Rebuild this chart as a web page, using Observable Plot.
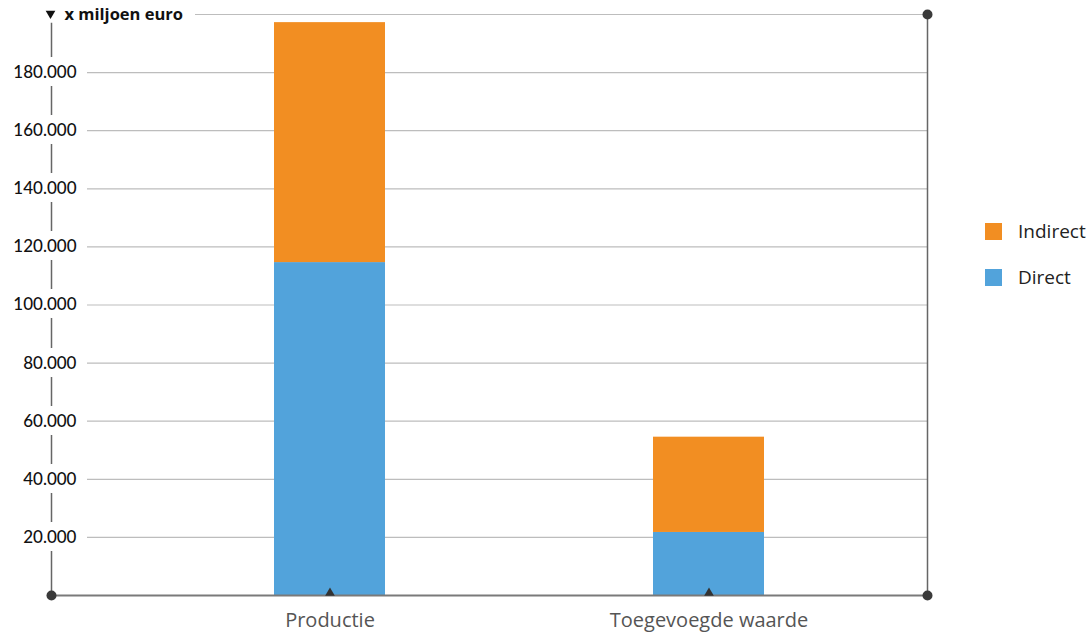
<!DOCTYPE html>
<html>
<head>
<meta charset="utf-8">
<script src="https://cdn.jsdelivr.net/npm/d3@7"></script>
<script src="https://cdn.jsdelivr.net/npm/@observablehq/plot@0.6"></script>
<style>
  body { margin: 0; background: #fff; }
  #wrap { position: relative; width: 1088px; height: 633px; font-family: "Open Sans", Lato, sans-serif; }
  #legend { position: absolute; left: 985px; top: 222px; }
  .item { display: flex; align-items: center; height: 18px; margin-bottom: 28px; font-size: 19px; color: #222; }
  .sw { width: 17px; height: 17px; margin-right: 16px; }
</style>
</head>
<body>
<div id="wrap"></div>
<script>
const categories = ["Productie", "Toegevoegde waarde"];
const series = ["Direct", "Indirect"];
const colors = ["#52A3DB", "#F28E22"];
const direct = [114600, 21700];
const indirect = [82600, 32800];
const yTicks = [20000, 40000, 60000, 80000, 100000, 120000, 140000, 160000, 180000];
const yMax = 200000;
const unitLabel = "x miljoen euro";

const data = [];
categories.forEach((c, i) => {
  data.push({cat: c, series: "Direct", value: direct[i]});
  data.push({cat: c, series: "Indirect", value: indirect[i]});
});

const nl = d3.formatLocale({decimal: ",", thousands: ".", grouping: [3], currency: ["€", ""]});
const fmt = nl.format(",d");

const chart = Plot.plot({
  width: 1088,
  height: 633,
  marginTop: 14,
  marginBottom: 38,
  marginLeft: 51,
  marginRight: 161,
  style: {fontFamily: "'Open Sans', Lato, sans-serif", background: "#fff"},
  x: {type: "band", domain: categories, range: [140, 898], paddingInner: 0.707, paddingOuter: 0.3535, label: null},
  y: {domain: [0, yMax], axis: null},
  color: {domain: series, range: colors},
  marks: [
    Plot.ruleY(yTicks, {stroke: "#bdbdbd", strokeWidth: 1.2, insetLeft: 36}),
    Plot.ruleY([yMax], {stroke: "#bdbdbd", strokeWidth: 1.2, insetLeft: 144}),
    Plot.barY(data, {x: "cat", y: "value", fill: "series", order: series}),
    Plot.frame({anchor: "left", stroke: "#666", strokeWidth: 1.5, insetTop: 9}),
    Plot.frame({anchor: "right", stroke: "#666", strokeWidth: 1.5}),
    Plot.ruleY([0], {stroke: "#7a7a7a", strokeWidth: 2}),
    Plot.text(yTicks, {y: d => d, text: d => fmt(d), frameAnchor: "left", dx: 25, textAnchor: "end",
      fontFamily: "Lato, sans-serif", fontSize: 17, fontWeight: 500, fill: "#111", stroke: "white", strokeWidth: 16}),
    Plot.text([unitLabel], {frameAnchor: "top-left", dx: 13, dy: 0, text: d => d, textAnchor: "start",
      lineAnchor: "middle", fontSize: 16.5, fontWeight: 700, fill: "#111"}),
    Plot.dot([0], {frameAnchor: "top-left", symbol: "triangle", r: 3.6, rotate: 180, fill: "#111", dx: -1, dy: -1}),
    Plot.dot(categories, {x: d => d, y: () => 0, symbol: "triangle", r: 3.6, fill: "#333", dy: -2.5}),
    Plot.dot([0], {frameAnchor: "bottom-left", r: 5, fill: "#3a3a3a"}),
    Plot.dot([0], {frameAnchor: "bottom-right", r: 5, fill: "#3a3a3a"}),
    Plot.dot([0], {frameAnchor: "top-right", r: 5, fill: "#3a3a3a"}),
    Plot.axisX({tickSize: 0, tickPadding: 17, fontSize: 20, fill: "#555", label: null})
  ]
});

const wrap = document.getElementById("wrap");
wrap.appendChild(chart);

const legend = document.createElement("div");
legend.id = "legend";
[...series].reverse().forEach(s => {
  const item = document.createElement("div");
  item.className = "item";
  const sw = document.createElement("div");
  sw.className = "sw";
  sw.style.background = colors[series.indexOf(s)];
  const t = document.createElement("span");
  t.textContent = s;
  item.appendChild(sw);
  item.appendChild(t);
  legend.appendChild(item);
});
wrap.appendChild(legend);
</script>
</body>
</html>
